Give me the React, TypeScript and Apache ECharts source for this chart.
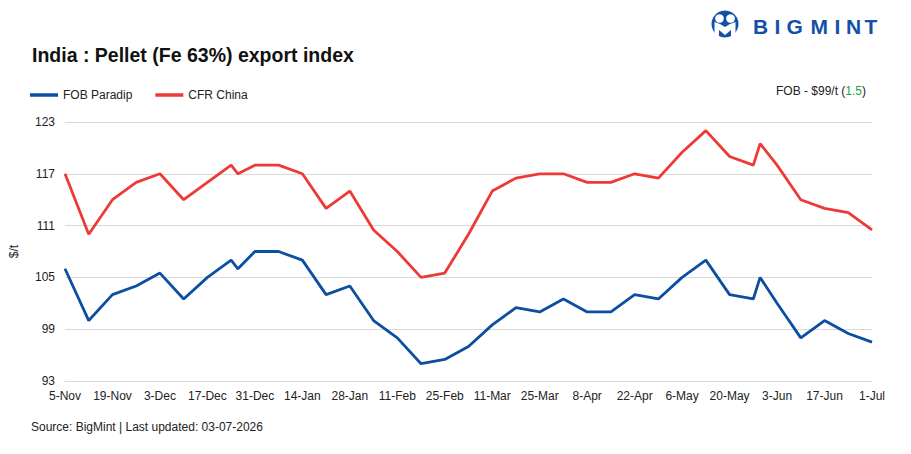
import React, { useEffect, useRef } from "react";
import * as echarts from "echarts";

// Weekly assessment dates (plus a few mid-week revisions)
const dates = [
  "2025-11-05", "2025-11-12", "2025-11-19", "2025-11-26", "2025-12-03", "2025-12-10",
  "2025-12-17", "2025-12-24", "2025-12-26", "2025-12-31", "2026-01-07", "2026-01-14",
  "2026-01-21", "2026-01-28", "2026-02-04", "2026-02-11", "2026-02-18", "2026-02-25",
  "2026-03-04", "2026-03-11", "2026-03-18", "2026-03-25", "2026-04-01", "2026-04-08",
  "2026-04-15", "2026-04-22", "2026-04-29", "2026-05-06", "2026-05-13", "2026-05-20",
  "2026-05-27", "2026-05-29", "2026-06-03", "2026-06-10", "2026-06-17", "2026-06-24",
  "2026-07-01",
];

const fobParadip = [
  106, 100, 103, 104, 105.5, 102.5, 105, 107, 106, 108, 108, 107, 103, 104, 100, 98, 95,
  95.5, 97, 99.5, 101.5, 101, 102.5, 101, 101, 103, 102.5, 105, 107, 103, 102.5, 105, 102,
  98, 100, 98.5, 97.5,
];

const cfrChina = [
  117, 110, 114, 116, 117, 114, 116, 118, 117, 118, 118, 117, 113, 115, 110.5, 108, 105,
  105.5, 110, 115, 116.5, 117, 117, 116, 116, 117, 116.5, 119.5, 122, 119, 118, 120.5, 118,
  114, 113, 112.5, 110.5,
];

const yTicks = { min: 93, max: 123, step: 6 };
const startDate = "2025-11-05";
const endDate = "2026-07-01";
const labelStepDays = 14;
const months = ["Jan", "Feb", "Mar", "Apr", "May", "Jun", "Jul", "Aug", "Sep", "Oct", "Nov", "Dec"];

const DAY = 86400000;
const toUtc = (s: string) => {
  const [y, m, d] = s.split("-").map(Number);
  return Date.UTC(y, m - 1, d);
};
const t0 = toUtc(startDate);
const dayOffset = (s: string) => Math.round((toUtc(s) - t0) / DAY);
const fmtDay = (v: number) => {
  const d = new Date(t0 + v * DAY);
  return `${d.getUTCDate()}-${months[d.getUTCMonth()]}`;
};

const FONT = "'Liberation Sans', Arial, sans-serif";
const BLUE = "#0b4ea2";
const RED = "#ee3a37";
const LOGO = "#1450a6";

// Logo wordmark letters with their left edges
const logoLetters: [string, number][] = [
  ["B", 753], ["I", 774.5], ["G", 786.5], ["M", 810.5], ["I", 834.5], ["N", 846], ["T", 864.5],
];

export default function App() {
  const ref = useRef<HTMLDivElement>(null);

  useEffect(() => {
    if (!ref.current) return;
    document.body.style.margin = "0";
    const chart = echarts.init(ref.current, undefined, { renderer: "svg" });

    const fobData = dates.map((d, i) => [dayOffset(d), fobParadip[i]]);
    const cfrData = dates.map((d, i) => [dayOffset(d), cfrChina[i]]);

    chart.setOption({
      animation: false,
      backgroundColor: "#ffffff",
      textStyle: { fontFamily: FONT },
      title: {
        text: "India : Pellet (Fe 63%) export index",
        left: 27,
        top: 40,
        textStyle: { fontFamily: FONT, fontSize: 19.5, fontWeight: "bold", color: "#111111" },
      },
      legend: {
        left: 25,
        top: 84,
        icon: "rect",
        itemWidth: 28,
        itemHeight: 3.5,
        itemGap: 23,
        textStyle: { fontFamily: FONT, fontSize: 12, color: "#222222" },
        data: ["FOB Paradip", "CFR China"],
      },
      grid: { left: 62, right: 39, top: 122, bottom: 73, containLabel: false },
      xAxis: {
        type: "value",
        min: 0,
        max: dayOffset(endDate),
        interval: labelStepDays,
        axisLine: { show: true, lineStyle: { color: "#d9d9d9", width: 1 } },
        axisTick: { show: false },
        splitLine: { show: false },
        axisLabel: {
          formatter: (v: number) => fmtDay(v),
          fontFamily: FONT,
          fontSize: 12,
          color: "#222222",
          margin: 9,
        },
      },
      yAxis: {
        type: "value",
        min: yTicks.min,
        max: yTicks.max,
        interval: yTicks.step,
        name: "$/t",
        nameLocation: "middle",
        nameGap: 45,
        nameRotate: 90,
        nameTextStyle: { fontFamily: FONT, fontSize: 12, color: "#222222" },
        axisLine: { show: false },
        axisTick: { show: false },
        splitLine: { lineStyle: { color: "#d9d9d9", width: 1 } },
        axisLabel: { fontFamily: FONT, fontSize: 12, color: "#222222", margin: 10 },
      },
      series: [
        {
          name: "FOB Paradip",
          type: "line",
          data: fobData,
          showSymbol: false,
          color: BLUE,
          lineStyle: { width: 2.8, color: BLUE },
        },
        {
          name: "CFR China",
          type: "line",
          data: cfrData,
          showSymbol: false,
          color: RED,
          lineStyle: { width: 2.8, color: RED },
        },
      ],
      graphic: [
        {
          type: "text",
          right: 45,
          top: 85,
          style: {
            text: "{d|FOB - $99/t (}{g|1.5}{d|)}",
            rich: {
              d: { fontFamily: FONT, fontSize: 12, fill: "#222222" },
              g: { fontFamily: FONT, fontSize: 12, fill: "#22a045" },
            },
          },
        },
        {
          type: "text",
          left: 31,
          top: 421,
          style: {
            text: "Source: BigMint | Last updated: 03-07-2026",
            fontFamily: FONT,
            fontSize: 12,
            fill: "#222222",
          },
        },
        // Logo mark
        { type: "circle", shape: { cx: 725, cy: 24, r: 13.5 }, style: { fill: LOGO } },
        { type: "circle", shape: { cx: 719.5, cy: 18.5, r: 4.3 }, style: { fill: "#ffffff" } },
        { type: "circle", shape: { cx: 730.5, cy: 18.5, r: 4.3 }, style: { fill: "#ffffff" } },
        {
          type: "polygon",
          shape: {
            points: [
              [714.5, 22], [720, 24], [725, 27], [730, 24], [735.5, 22],
              [735.5, 35], [731, 36.5], [731, 30], [725, 35], [719, 30], [719, 36.5], [714.5, 35],
            ],
          },
          style: { fill: "#ffffff" },
        },
        ...logoLetters.map(([ch, x]) => ({
          type: "text",
          x,
          y: 26,
          style: {
            text: ch,
            fontFamily: FONT,
            fontSize: 21,
            fontWeight: "bold",
            fill: LOGO,
            textAlign: "left",
            textVerticalAlign: "middle",
          },
        })),
      ],
    });

    return () => chart.dispose();
  }, []);

  return <div ref={ref} style={{ width: 911, height: 454 }} />;
}
